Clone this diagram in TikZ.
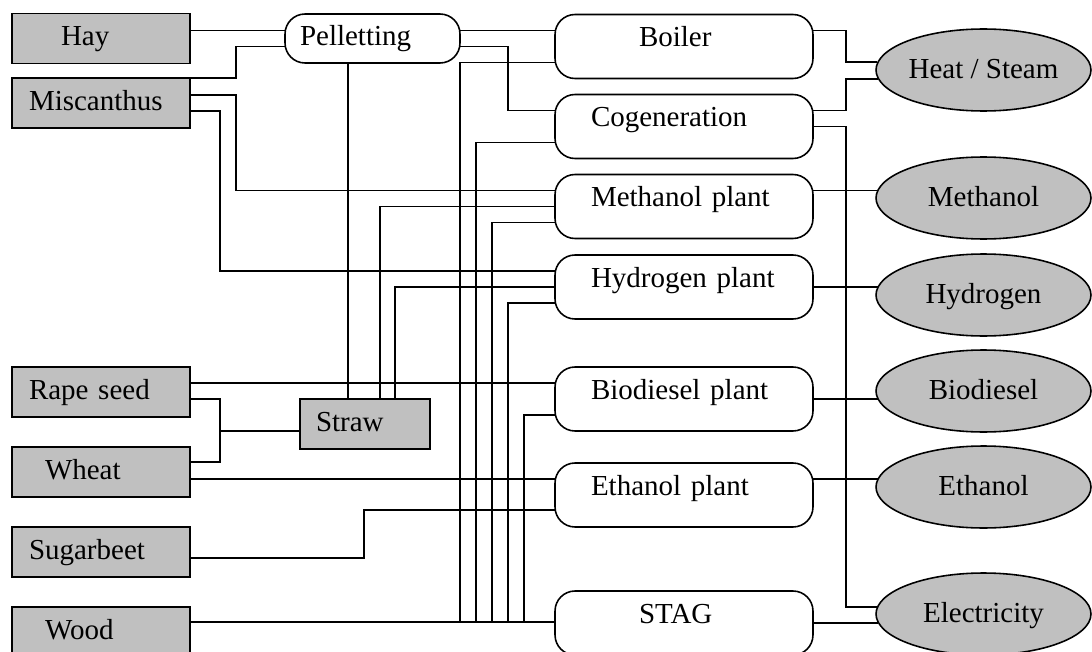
\documentclass[tikz,border=0pt]{standalone}
\usepackage{fontspec}
\setmainfont{Liberation Serif}
\usetikzlibrary{calc,shapes.geometric}
\definecolor{cropgray}{RGB}{192,192,192}

\begin{document}
\begin{tikzpicture}[x=0.02cm,y=-0.02cm,line width=0.9pt,
  font=\fontsize{16.5}{19}\selectfont,
  every node/.style={outer sep=0pt,inner xsep=0pt,text height=0.9em,text depth=0.1em},
  feed/.style={draw,fill=cropgray,minimum width=3.56cm,minimum height=1.0cm,
    text width=3.56cm,align=left},
  straw/.style={feed,minimum width=2.6cm,text width=2.6cm},
  pellet/.style={draw,rounded corners=0.4cm,minimum width=3.5cm,minimum height=0.98cm,
    text width=3.5cm,align=left},
  plant/.style={draw,rounded corners=0.4cm,minimum width=5.16cm,minimum height=1.28cm,
    text width=5.16cm,align=left,text height=0.75em,text depth=0.71em},
  product/.style={draw,fill=cropgray,ellipse,minimum width=4.3cm,minimum height=1.64cm,
    inner sep=0pt,align=center,text height=1.0em,text depth=0.05em}]

  \path[use as bounding box,fill=white] (0,0) rectangle (1092,652);

  % feedstocks
  \node[feed] (hay)   at (101,38.5) {\hspace*{0.98cm}Hay};
  \node[feed] (misc)  at (101,103)  {\hspace*{0.34cm}Miscanthus};
  \node[feed] (rape)  at (101,392)  {\hspace*{0.34cm}Rape seed};
  \node[feed] (wheat) at (101,472)  {\hspace*{0.66cm}Wheat};
  \node[feed] (sugar) at (101,552)  {\hspace*{0.34cm}Sugarbeet};
  \node[feed] (wood)  at (101,632)  {\hspace*{0.66cm}Wood};
  \node[straw] (straw) at (365,424) {\hspace*{0.32cm}Straw};
  \node[pellet] (pellet) at (372.5,38.5) {\hspace*{0.3cm}Pelletting};

  % conversion plants
  \node[plant] (boiler) at (684,46.5) {\hspace*{1.68cm}Boiler};
  \node[plant] (cogen) at (684,126.5) {\hspace*{0.72cm}Cogeneration};
  \node[plant] (meth)  at (684,206.5) {\hspace*{0.72cm}Methanol plant};
  \node[plant] (hydro) at (684,287)   {\hspace*{0.72cm}Hydrogen plant};
  \node[plant] (biod)  at (684,399)   {\hspace*{0.72cm}Biodiesel plant};
  \node[plant] (ethp)  at (684,495)   {\hspace*{0.72cm}Ethanol plant};
  \node[plant] (stag)  at (684,623)   {\hspace*{1.68cm}STAG};

  % products
  \node[product] (heat)      at (983.5,70)  {Heat / Steam};
  \node[product] (methanol)  at (983.5,198) {Methanol};
  \node[product] (hydrogen)  at (983.5,295) {Hydrogen};
  \node[product] (biodiesel) at (983.5,391) {Biodiesel};
  \node[product] (ethanol)   at (983.5,487) {Ethanol};
  \node[product] (elec)      at (983.5,614) {Electricity};

  % feedstocks to plants
  \draw ($(hay.east)+(0,-8)$) -- ($(pellet.west)+(0,-8)$);
  \draw (misc.north east) -- ++(46,0) |- ($(pellet.west)+(0,8)$);
  \draw ($(misc.east)+(0,-8)$) -- ++(46,0) |- ($(meth.west)+(0,-16)$);
  \draw ($(misc.east)+(0,8)$) -- ++(30,0) |- ($(hydro.west)+(0,-16)$);
  \draw ($(pellet.east)+(0,-8)$) -- ($(boiler.west)+(0,-16)$);
  \draw ($(pellet.east)+(0,8)$) -- ++(48,0) |- ($(cogen.west)+(0,-16)$);
  \draw ($(pellet.south)+(-24.5,0)$) coordinate (pa) -- (pa |- straw.north);
  \draw (meth.west) -| ($(straw.north)+(15,0)$);
  \draw (hydro.west) -| ($(straw.north)+(30,0)$);
  \draw ($(rape.east)+(0,-9)$) -- ($(biod.west)+(0,-16)$);
  \draw ($(rape.east)+(0,7)$) -- ++(30,0) |- ($(wheat.east)+(0,-10)$);
  \draw ($(straw.west)+(0,7)$) -- ++(-80,0);
  \draw ($(wheat.east)+(0,7)$) -- ($(ethp.west)+(0,-16)$);
  \draw ($(sugar.east)+(0,6)$) -- ++(174,0) |- ($(ethp.west)+(0,15)$);
  \draw ($(wood.east)+(0,-10)$) coordinate (wd) -- (wd -| stag.west);
  % wood bundle up to the plants
  \foreach \p/\dx in {boiler/270,cogen/286,meth/302,hydro/318,biod/334}
    \draw ($(\p.west)+(0,16)$) -| ($(wd)+(\dx,0)$);

  % plants to products
  \draw ($(boiler.east)+(0,-16)$) -- ++(33,0) |- ($(heat.west)+(1,-8)$);
  \draw ($(cogen.east)+(0,-16)$) -- ++(33,0) |- ($(heat.west)+(2,9)$);
  \draw (cogen.east) -- ++(33,0) |- ($(elec.west)+(1,-7)$);
  \foreach \a/\b/\dy in {meth/methanol/-16,hydro/hydrogen/0,biod/biodiesel/0,
                         ethp/ethanol/-16,stag/elec/0}
    \draw[shorten >=-1pt] ($(\a.east)+(0,\dy)$) coordinate (o) -- (o -| \b.west);
\end{tikzpicture}
\end{document}
